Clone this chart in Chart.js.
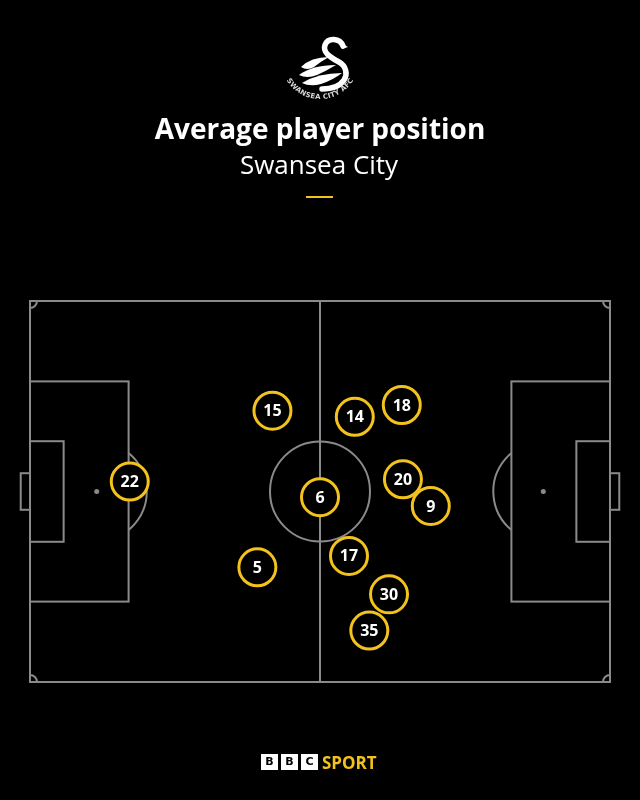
<!DOCTYPE html>
<html>
<head>
<meta charset="utf-8">
<script src="https://cdn.jsdelivr.net/npm/chart.js@4"></script>
<style>
    html, body { margin: 0; padding: 0; background: #000; }
    #wrap { position: relative; width: 640px; height: 800px; }
    #chartCanvas { position: absolute; left: 0; top: 0; }
    #logo { position: absolute; left: 0; top: 0; }
</style>
</head>
<body>
<div id="wrap">
    <canvas id="chartCanvas" width="640" height="800"></canvas>
    <svg id="logo" width="640" height="110" viewBox="0 0 640 110">
        <defs>
            <path id="arcPath" d="M 282.3 70.1 A 39 39 0 0 0 357.7 70.1" />
        </defs>
        <!-- swan -->
        <path d="M 343 46 C 340 38 328 37 325 45 C 322 53 332 58 339 62 C 346 66 348 74 344 80 C 340 86 332 89 322 89"
              fill="none" stroke="#fff" stroke-width="5.5" stroke-linecap="round" />
        <path d="M 341 43 L 348 47 L 342 49 Z" fill="#fff" />
        <path d="M 301 67 Q 311 57 329 57 Q 320 62 314 67 Q 307 71 301 67 Z" fill="#fff" />
        <path d="M 299 75 Q 312 65 336 65 Q 326 71 317 75 Q 307 79 299 75 Z" fill="#fff" />
        <path d="M 302 83 Q 318 73 342 73 Q 333 80 321 84 Q 310 87 302 83 Z" fill="#fff" />
        <text font-family="DejaVu Sans" font-weight="bold" font-size="7" fill="#d8d8d8">
            <textPath href="#arcPath" startOffset="50%" text-anchor="middle" textLength="80" lengthAdjust="spacing">SWANSEA CITY AFC</textPath>
        </text>
    </svg>
</div>
<script>
// Opta-style pitch coordinates: 0-100 along the length, 0-100 across (0 = bottom touchline)
const playerNumbers = ["22", "5", "15", "6", "14", "17", "18", "20", "9", "30", "35"];
const playerX = [17.2, 39.2, 41.8, 50.0, 56.0, 55.0, 64.1, 64.3, 69.1, 61.9, 58.5];
const playerY = [52.6, 30.1, 71.2, 48.5, 69.6, 33.1, 72.7, 53.2, 46.2, 23.0, 13.5];

const LINE_COLOR = "#8a8a8a";
const YELLOW = "#f3c21c";

/* ----------------------------------------
   PITCH MARKINGS
---------------------------------------- */
const pitchPlugin = {
    id: "pitch",
    beforeDraw(chart) {
        const ctx = chart.ctx;
        ctx.save();
        ctx.fillStyle = "#000";
        ctx.fillRect(0, 0, chart.width, chart.height);
        ctx.restore();
    },
    beforeDatasetsDraw(chart) {
        const { ctx, scales: { x, y } } = chart;
        const px = v => x.getPixelForValue(v);
        const py = v => y.getPixelForValue(v);
        const r = px(8.62) - px(0);

        ctx.save();
        ctx.strokeStyle = LINE_COLOR;
        ctx.fillStyle = LINE_COLOR;
        ctx.lineWidth = 2;

        const rect = (x0, y0, x1, y1) => ctx.strokeRect(px(x0), py(y1), px(x1) - px(x0), py(y0) - py(y1));
        const spot = (sx, sy, rad) => { ctx.beginPath(); ctx.arc(px(sx), py(sy), rad, 0, Math.PI * 2); ctx.fill(); };

        rect(0, 0, 100, 100);
        // halfway line
        ctx.beginPath();
        ctx.moveTo(px(50), py(0));
        ctx.lineTo(px(50), py(100));
        ctx.stroke();
        // centre circle
        ctx.beginPath();
        ctx.arc(px(50), py(50), r, 0, Math.PI * 2);
        ctx.stroke();
        spot(50, 50, 2.5);

        // penalty areas, six-yard boxes, goals
        rect(0, 21.1, 17, 78.9);
        rect(83, 21.1, 100, 78.9);
        rect(0, 36.8, 5.8, 63.2);
        rect(94.2, 36.8, 100, 63.2);
        rect(-1.6, 45.2, 0, 54.8);
        rect(100, 45.2, 101.6, 54.8);
        spot(11.5, 50, 2.5);
        spot(88.5, 50, 2.5);

        // D arcs
        const a = Math.acos((px(17) - px(11.5)) / r);
        ctx.beginPath();
        ctx.arc(px(11.5), py(50), r, -a, a);
        ctx.stroke();
        ctx.beginPath();
        ctx.arc(px(88.5), py(50), r, Math.PI - a, Math.PI + a);
        ctx.stroke();

        // corner arcs
        const cr = 7;
        [[0, 100, 0, 0.5], [100, 100, 0.5, 1], [100, 0, 1, 1.5], [0, 0, 1.5, 2]].forEach(c => {
            ctx.beginPath();
            ctx.arc(px(c[0]), py(c[1]), cr, c[2] * Math.PI, c[3] * Math.PI);
            ctx.stroke();
        });
        ctx.restore();
    },
    afterDatasetsDraw(chart) {
        const ctx = chart.ctx;
        const meta = chart.getDatasetMeta(0);
        ctx.save();
        ctx.fillStyle = "#fff";
        ctx.font = "bold 16px 'Open Sans'";
        ctx.textAlign = "center";
        ctx.textBaseline = "middle";
        meta.data.forEach((pt, i) => {
            ctx.fillText(playerNumbers[i], pt.x, pt.y + 1);
        });
        ctx.restore();
    },
    afterDraw(chart) {
        const ctx = chart.ctx;
        ctx.save();
        ctx.textAlign = "center";
        ctx.textBaseline = "alphabetic";
        ctx.fillStyle = "#fff";
        ctx.font = "bold 28px 'Open Sans'";
        ctx.fillText("Average player position", 320, 139);
        ctx.font = "26px 'Open Sans'";
        ctx.fillText("Swansea City", 319, 174);
        // yellow rule
        ctx.fillStyle = YELLOW;
        ctx.fillRect(306, 196, 27, 2);

        // BBC SPORT footer
        const boxes = ["B", "B", "C"];
        ctx.font = "bold 11px 'DejaVu Sans'";
        ctx.textBaseline = "middle";
        boxes.forEach((b, i) => {
            const bx = 261 + i * 20;
            ctx.fillStyle = "#fff";
            ctx.fillRect(bx, 754, 17, 16);
            ctx.fillStyle = "#000";
            ctx.fillText(b, bx + 8.5, 762.5);
        });
        ctx.textAlign = "left";
        ctx.textBaseline = "alphabetic";
        ctx.fillStyle = YELLOW;
        ctx.font = "bold 17px 'Open Sans'";
        ctx.fillText("SPORT", 322, 768.5);
        ctx.restore();
    }
};

/* ----------------------------------------
   CHART
---------------------------------------- */
const ctx = document.getElementById("chartCanvas").getContext("2d");
new Chart(ctx, {
    type: "scatter",
    data: {
        datasets: [{
            data: playerX.map((v, i) => ({ x: v, y: playerY[i] })),
            backgroundColor: "#000",
            borderColor: YELLOW,
            borderWidth: 3,
            pointRadius: 18.5,
            pointHoverRadius: 18.5,
            clip: false
        }]
    },
    options: {
        responsive: false,
        animation: false,
        events: [],
        layout: { padding: { left: 30, right: 30, top: 301, bottom: 118 } },
        plugins: {
            legend: { display: false },
            tooltip: { enabled: false }
        },
        scales: {
            x: { type: "linear", min: 0, max: 100, display: false },
            y: { type: "linear", min: 0, max: 100, display: false }
        }
    },
    plugins: [pitchPlugin]
});
</script>
</body>
</html>
